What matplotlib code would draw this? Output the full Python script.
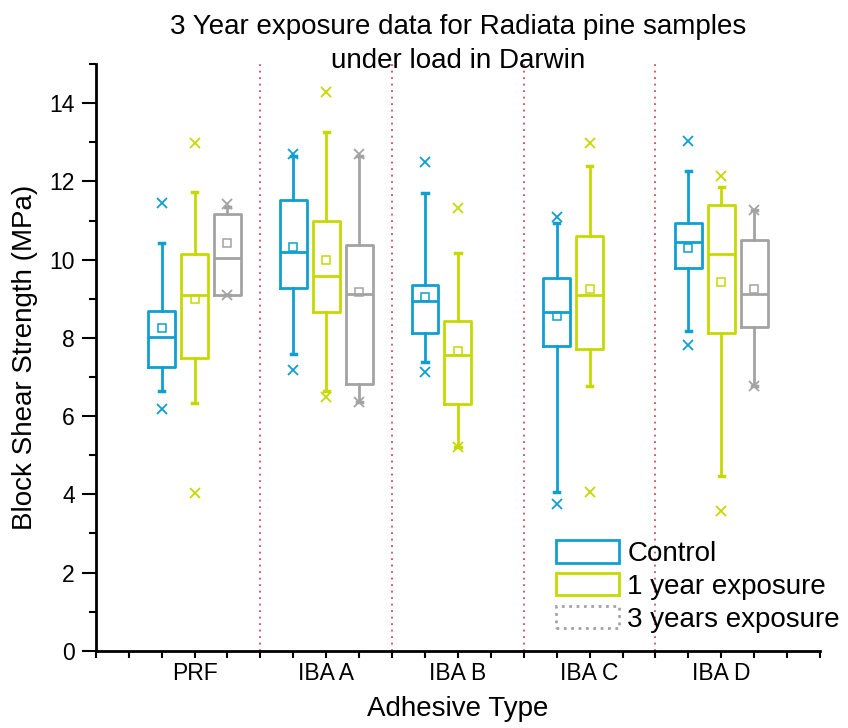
import matplotlib
matplotlib.use("Agg")
import matplotlib.pyplot as plt
from matplotlib.patches import Patch
from matplotlib.ticker import MultipleLocator, FixedLocator

plt.rcParams['font.family'] = ['Liberation Sans', 'DejaVu Sans']

categories = ["PRF", "IBA A", "IBA B", "IBA C", "IBA D"]
series_names = ["Control", "1 year exposure", "3 years exposure"]

# [whisker low, Q1, median, Q3, whisker high] per category (None = no data)
control_box = [[6.65, 7.26, 8.02, 8.69, 10.42],
               [7.59, 9.27, 10.20, 11.52, 12.65],
               [7.39, 8.12, 8.94, 9.35, 11.70],
               [4.05, 7.80, 8.67, 9.54, 10.93],
               [8.18, 9.79, 10.44, 10.93, 12.27]]
control_mean = [8.25, 10.33, 9.05, 8.56, 10.31]
control_min = [6.18, 7.18, 7.14, 3.76, 7.82]
control_max = [11.44, 12.71, 12.50, 11.10, 13.04]

year1_box = [[6.34, 7.48, 9.10, 10.15, 11.74],
             [6.63, 8.67, 9.59, 11.00, 13.27],
             [5.22, 6.31, 7.56, 8.43, 10.16],
             [6.78, 7.72, 9.10, 10.61, 12.39],
             [4.47, 8.12, 10.14, 11.39, 11.85]]
year1_mean = [8.99, 10.00, 7.67, 9.25, 9.44]
year1_min = [4.04, 6.50, 5.20, 4.05, 3.58]
year1_max = [12.99, 14.29, 11.31, 12.99, 12.14]

year3_box = [[9.10, 9.10, 10.03, 11.17, 11.35],
             [6.37, 6.82, 9.13, 10.37, 12.65],
             None,
             None,
             [6.77, 8.29, 9.12, 10.50, 11.27]]
year3_mean = [10.42, 9.17, None, None, 9.24]
year3_min = [9.10, 6.35, None, None, 6.77]
year3_max = [11.42, 12.70, None, None, 11.28]

colors = ["#0f9fd0", "#c5d900", "#a3a3a3"]
offsets = [-0.25, 0.0, 0.25]

fig = plt.figure(figsize=(8.48, 7.28), dpi=100)
ax = fig.add_axes([0.113, 0.106, 0.854, 0.806])

series = [(control_box, control_mean, control_min, control_max),
          (year1_box, year1_mean, year1_min, year1_max),
          (year3_box, year3_mean, year3_min, year3_max)]

for si, (boxes, means, mins, maxs) in enumerate(series):
    c = colors[si]
    stats = []
    pos = []
    for ci, b in enumerate(boxes):
        if b is None:
            continue
        stats.append(dict(whislo=b[0], q1=b[1], med=b[2], q3=b[3], whishi=b[4],
                          mean=means[ci], fliers=[mins[ci], maxs[ci]]))
        pos.append(ci + 1 + offsets[si])
    ax.bxp(stats, positions=pos, widths=0.205, showmeans=True, showfliers=True,
           capwidths=0.04, manage_ticks=False,
           boxprops=dict(color=c, linewidth=2),
           whiskerprops=dict(color=c, linewidth=2),
           capprops=dict(color=c, linewidth=2.5),
           medianprops=dict(color=c, linewidth=2),
           meanprops=dict(marker='s', markerfacecolor='none', markeredgecolor=c,
                          markersize=6, markeredgewidth=1.1),
           flierprops=dict(marker='x', markeredgecolor=c, markersize=7,
                           markeredgewidth=1.3))

for xs in [1.5, 2.5, 3.5, 4.5]:
    ax.axvline(xs, color="#d24a5c", linewidth=1.3, linestyle=(0, (1, 2.6)), zorder=0)

ax.set_xlim(0.25, 5.75)
ax.set_ylim(0, 15)
ax.xaxis.set_major_locator(FixedLocator([1, 2, 3, 4, 5]))
ax.set_xticklabels(categories)
ax.xaxis.set_minor_locator(MultipleLocator(0.25))
ax.yaxis.set_major_locator(MultipleLocator(2))
ax.yaxis.set_minor_locator(MultipleLocator(1))
ax.tick_params(axis='x', which='both', direction='out', length=5, width=1.5, labelsize=16.5, pad=3)
ax.tick_params(axis='y', which='major', direction='out', length=10, width=1.5, labelsize=16.5, pad=5)
ax.tick_params(axis='y', which='minor', direction='out', length=5, width=1.5)
for s in ['top', 'right']:
    ax.spines[s].set_visible(False)
for s in ['left', 'bottom']:
    ax.spines[s].set_linewidth(2)

ax.set_xlabel("Adhesive Type", fontsize=20, labelpad=8)
ax.set_ylabel("Block Shear Strength (MPa)", fontsize=20, labelpad=8)
ax.set_title("3 Year exposure data for Radiata pine samples\nunder load in Darwin",
             fontsize=20, y=1.0, pad=-3, linespacing=1.4)

handles = [Patch(facecolor='none', edgecolor=colors[0], linewidth=2),
           Patch(facecolor='none', edgecolor=colors[1], linewidth=2),
           Patch(facecolor='none', edgecolor=colors[2], linewidth=2, linestyle=':')]
ax.legend(handles, series_names, loc='lower left', bbox_to_anchor=(0.611, 0.0),
          frameon=False, fontsize=20, handlelength=2.25, handleheight=0.85,
          handletextpad=0.3, labelspacing=0.22, borderpad=0.15)

fig.savefig("out.png", dpi=100)
